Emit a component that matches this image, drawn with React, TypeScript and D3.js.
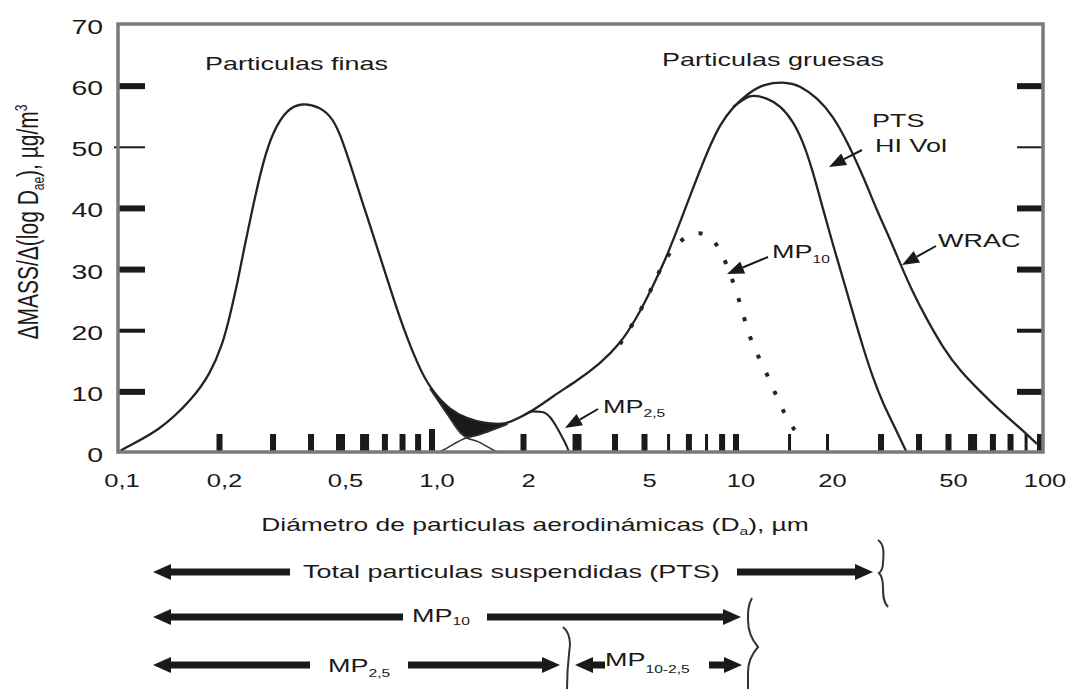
import React from 'react';
import * as d3 from 'd3';

// ---------- data (diameter in µm, value in µg/m³) ----------
const xTickValues = [0.1, 0.2, 0.5, 1, 2, 5, 10, 20, 50, 100];
const xTickLabels = ['0,1', '0,2', '0,5', '1,0', '2', '5', '10', '20', '50', '100'];
const yTickValues = [0, 10, 20, 30, 40, 50, 60, 70];
const rugSizes = [0.2, 0.3, 0.4, 0.5, 0.6, 0.7, 0.8, 0.9, 1.0, 2, 3, 4, 5, 6, 7, 8, 9, 10, 15, 20, 30, 40, 50, 60, 70, 80, 90, 100];

const wracTotal: [number, number][] = [
  [0.0927, 0], [0.0955, 0.65], [0.127, 3.6], [0.164, 9.0], [0.186, 12.9], [0.205, 17.8],
  [0.217, 22.7], [0.229, 27.8], [0.239, 32.6], [0.258, 40.5], [0.278, 47.6], [0.3, 52.6],
  [0.333, 56.2], [0.373, 57.3], [0.428, 56.6], [0.472, 54.8], [0.509, 51.0], [0.55, 45.8],
  [0.593, 40.7], [0.64, 35.7], [0.69, 30.6], [0.744, 25.5], [0.803, 20.6], [0.893, 14.7],
  [0.985, 10.5], [1.15, 6.9], [1.3, 5.7], [1.47, 4.9], [1.67, 4.7], [1.77, 4.8],
  [2.15, 6.9], [2.5, 9.3], [3.0, 11.8], [3.57, 14.6], [4.15, 17.8], [4.72, 22.1],
  [5.33, 27.3], [5.93, 32.2], [6.54, 37.7], [7.22, 43.3], [8.03, 49.2], [8.86, 53.8],
  [9.78, 56.6], [10.9, 58.7], [12.3, 60.4], [14.7, 60.7], [16.2, 60.1], [18.5, 58.1],
  [20.8, 55.2], [23.2, 51.0], [26.6, 44.5], [29.1, 39.6], [32.1, 35.0], [34.6, 31.1],
  [38.2, 26.2], [42.5, 21.8], [48.0, 17.2], [54.6, 13.4], [63.5, 10.1], [73.9, 6.9],
  [85.9, 4.1], [97.7, 1.5],
];

const ptsHiVol: [number, number][] = [
  [9.78, 56.6], [10.9, 58.3], [11.4, 58.5], [12.6, 58.1], [14.0, 56.8], [15.4, 54.3],
  [16.6, 51.0], [17.9, 46.1], [19.3, 40.0], [20.8, 34.2], [22.5, 28.5], [24.3, 22.7],
  [26.2, 17.2], [28.2, 12.3], [30.5, 8.0], [33.4, 4.1], [36.5, 0],
];

const mp10Curve: [number, number][] = [
  [4.15, 17.8], [4.72, 22.1], [5.33, 27.3], [5.71, 30.8], [6.3, 34.1], [7.06, 35.8],
  [7.7, 36.1], [8.34, 35.3], [9.06, 32.5], [10.1, 26.2], [10.9, 20.1], [11.5, 17.0],
  [12.4, 13.9], [13.1, 11.0], [14.0, 8.0], [14.9, 4.9], [16.5, 2.3],
];

const mp25Curve: [number, number][] = [
  [2.0, 6.1], [2.15, 6.8], [2.3, 6.7], [2.45, 5.8], [2.58, 4.1], [2.7, 2.3], [2.78, 1.0], [2.83, 0],
];

const fineTail: [number, number][] = [
  [0.985, 10.5], [1.12, 6.4], [1.24, 3.3], [1.3, 2.5], [1.41, 1.9], [1.59, 0.5], [1.67, 0],
];
const coarseStart: [number, number][] = [
  [1.04, 0], [1.09, 0.5], [1.3, 2.5], [1.41, 2.9], [1.55, 3.6], [1.77, 4.7],
];
const overlapUpper: [number, number][] = [
  [0.985, 10.5], [1.15, 6.9], [1.3, 5.7], [1.47, 4.9], [1.67, 4.7], [1.77, 4.8],
];
const overlapLower: [number, number][] = [
  [1.77, 4.7], [1.55, 3.6], [1.41, 2.9], [1.3, 2.5], [1.24, 3.3], [1.12, 6.4], [0.985, 10.5],
];

// ---------- layout ----------
const W = 1073;
const H = 689;
const FRAME = { left: 118, right: 1043, top: 24, bottom: 452 };
const SX = 1.42;
const INK = '#1c1a19';
const FONT = 'Liberation Sans, Arial, Helvetica, sans-serif';

const x = d3.scaleLog().domain([0.1, 100]).range([128, 1040]);
const y = d3.scaleLinear().domain([0, 70]).range([453, 25]);

const smooth = d3
  .line<[number, number]>()
  .x((d) => x(d[0]))
  .y((d) => y(d[1]))
  .curve(d3.curveBasis);

const crisp = d3
  .line<[number, number]>()
  .x((d) => x(d[0]))
  .y((d) => y(d[1]))
  .curve(d3.curveMonotoneX);

function T({ x: tx, y: ty, size = 19, anchor = 'start', children }: any) {
  return (
    <text
      transform={`translate(${tx},${ty}) scale(${SX},1)`}
      fontSize={size}
      textAnchor={anchor}
      fill={INK}
      fontFamily={FONT}
    >
      {children}
    </text>
  );
}

function Head({ tipX, tipY, dir }: { tipX: number; tipY: number; dir: number }) {
  const len = 18;
  const hw = 8;
  const bx = tipX - dir * len;
  return <polygon points={`${tipX},${tipY} ${bx},${tipY - hw} ${bx},${tipY + hw}`} fill={INK} />;
}

function BigArrow({ tail, tip, yy }: { tail: number; tip: number; yy: number }) {
  const dir = tip > tail ? 1 : -1;
  return (
    <g>
      <line x1={tail} x2={tip - dir * 14} y1={yy} y2={yy} stroke={INK} strokeWidth={7} />
      <Head tipX={tip} tipY={yy} dir={dir} />
    </g>
  );
}

function Pointer({ x1, y1, x2, y2 }: { x1: number; y1: number; x2: number; y2: number }) {
  const ang = Math.atan2(y2 - y1, x2 - x1);
  const len = 17;
  const hw = 6.5;
  const bx = x2 - Math.cos(ang) * len;
  const by = y2 - Math.sin(ang) * len;
  const px = -Math.sin(ang) * hw;
  const py = Math.cos(ang) * hw;
  return (
    <g>
      <line x1={x1} y1={y1} x2={bx} y2={by} stroke={INK} strokeWidth={2} />
      <polygon points={`${x2},${y2} ${bx + px},${by + py} ${bx - px},${by - py}`} fill={INK} />
    </g>
  );
}

export default function App() {
  const upperPath = smooth(overlapUpper) as string;
  const lowerPath = (crisp(overlapLower.slice().reverse()) as string);
  // build closed polygon: upper forward, then lower backward
  const lowerRev = d3
    .line<[number, number]>()
    .x((d) => x(d[0]))
    .y((d) => y(d[1]))
    .curve(d3.curveBasis)(overlapLower) as string;
  const overlapPath = upperPath + lowerRev.replace(/^M/, 'L') + 'Z';
  void lowerPath;

  const thin = new Set([6, 8, 15, 20, 90]);
  const wide = new Set([0.5, 0.6, 3, 60]);
  const yTickWidth = (v: number) => (v === 50 ? 2 : v === 20 ? 4 : 6);

  return (
    <svg
      width={W}
      height={H}
      viewBox={`0 0 ${W} ${H}`}
      style={{ position: 'absolute', left: 0, top: 0, display: 'block', background: '#fff' }}
    >
      <rect x={0} y={0} width={W} height={H} fill="#fff" />

      {/* rug bars */}
      {rugSizes.map((d) => {
        const w = thin.has(d) ? 3 : wide.has(d) ? 9 : 6;
        const top = d === 1 ? 429 : 434;
        const cx = Math.min(x(d), FRAME.right - w / 2);
        return <rect key={d} x={cx - w / 2} y={top} width={w} height={FRAME.bottom - top} fill={INK} />;
      })}

      {/* y ticks inside frame */}
      {yTickValues
        .filter((v) => v > 0 && v < 70)
        .map((v) => (
          <g key={v}>
            <line x1={FRAME.left - (v === 50 ? 4 : 0)} x2={145} y1={y(v)} y2={y(v)} stroke={INK} strokeWidth={yTickWidth(v)} />
            <line x1={1017} x2={FRAME.right} y1={y(v)} y2={y(v)} stroke={INK} strokeWidth={yTickWidth(v)} />
          </g>
        ))}

      {/* overlap shading */}
      <path d={overlapPath} fill={INK} stroke={INK} strokeWidth={1} />
      <path d={crisp(fineTail) as string} fill="none" stroke="#333" strokeWidth={1.6} />
      <path d={crisp(coarseStart) as string} fill="none" stroke="#333" strokeWidth={1.6} />

      {/* curves */}
      <path d={smooth(wracTotal) as string} fill="none" stroke="#262423" strokeWidth={2.3} />
      <path d={smooth(ptsHiVol) as string} fill="none" stroke="#262423" strokeWidth={2.3} />
      <path d={crisp(mp25Curve) as string} fill="none" stroke="#262423" strokeWidth={2.1} />
      <path d={smooth(mp10Curve) as string} fill="none" stroke="#262423" strokeWidth={4} strokeDasharray="4 16" />

      {/* frame */}
      <rect
        x={FRAME.left}
        y={FRAME.top}
        width={FRAME.right - FRAME.left}
        height={FRAME.bottom - FRAME.top}
        fill="none"
        stroke="#7a7a7a"
        strokeWidth={3.5}
      />

      {/* y tick labels */}
      {yTickValues.map((v) => (
        <T key={v} x={103} y={y(v) + 9} size={20} anchor="end">
          {String(v)}
        </T>
      ))}

      {/* x tick labels */}
      {xTickValues.map((v, i) => (
        <T key={v} x={x(v) + (i === 0 ? -6 : 5)} y={487} size={18} anchor="middle">
          {xTickLabels[i]}
        </T>
      ))}

      {/* axis titles */}
      <T x={535} y={531} size={18.6} anchor="middle">
        Diámetro de particulas aerodinámicas (D
        <tspan fontSize={11} dy={4}>a</tspan>
        <tspan dy={-4}>), µm</tspan>
      </T>
      <text
        transform={`translate(38,222) scale(${SX},1) rotate(-90)`}
        fontSize={21}
        textAnchor="middle"
        fill={INK}
        fontFamily={FONT}
      >
        ΔMASS/Δ(log D
        <tspan fontSize={12} dy={4}>ae</tspan>
        <tspan dy={-4}>), µg/m</tspan>
        <tspan fontSize={12} dy={-8}>3</tspan>
      </text>

      {/* in-plot annotations */}
      <T x={205} y={70} size={19}>Particulas finas</T>
      <T x={662} y={66} size={19}>Particulas gruesas</T>
      <T x={872} y={127} size={19}>PTS</T>
      <T x={875} y={152} size={19}>HI Vol</T>
      <T x={938} y={247} size={19}>WRAC</T>
      <T x={772} y={258} size={19}>
        MP<tspan fontSize={11} dy={5}>10</tspan>
      </T>
      <T x={603} y={413} size={19}>
        MP<tspan fontSize={11} dy={4}>2,5</tspan>
      </T>
      <Pointer x1={862} y1={150} x2={829} y2={167} />
      <Pointer x1={936} y1={246} x2={902} y2={265} />
      <Pointer x1={768} y1={257} x2={727} y2={274} />
      <Pointer x1={598} y1={409} x2={565} y2={428} />

      {/* size-range arrows */}
      <BigArrow tail={290} tip={153} yy={572} />
      <T x={303} y={578} size={19}>Total particulas suspendidas (PTS)</T>
      <BigArrow tail={737} tip={873} yy={572} />
      <path d="M878,540 C884,544 884,552 883,562 C883,568 882,571 879,573 C882,576 883,580 883,588 C883,598 884,603 888,607" fill="none" stroke="#333" strokeWidth={2} />

      <BigArrow tail={403} tip={153} yy={617} />
      <T x={412} y={622} size={19}>
        MP<tspan fontSize={11} dy={3}>10</tspan>
      </T>
      <BigArrow tail={487} tip={741} yy={617} />
      <path d="M752,598 C748,605 748,612 748,620 C748,632 752,640 758,647 C752,654 748,662 748,672 L748,689" fill="none" stroke="#333" strokeWidth={2} />

      <BigArrow tail={310} tip={153} yy={665} />
      <T x={328} y={672} size={19}>
        MP<tspan fontSize={11} dy={5}>2,5</tspan>
      </T>
      <BigArrow tail={408} tip={560} yy={665} />
      <path d="M563,627 C569,632 570,638 570,645 C569,655 567,665 567,689" fill="none" stroke="#333" strokeWidth={2} />
      <BigArrow tail={605} tip={575} yy={665} />
      <T x={605} y={666} size={19}>
        MP<tspan fontSize={11} dy={7}>10-2,5</tspan>
      </T>
      <BigArrow tail={709} tip={742} yy={665} />
    </svg>
  );
}
